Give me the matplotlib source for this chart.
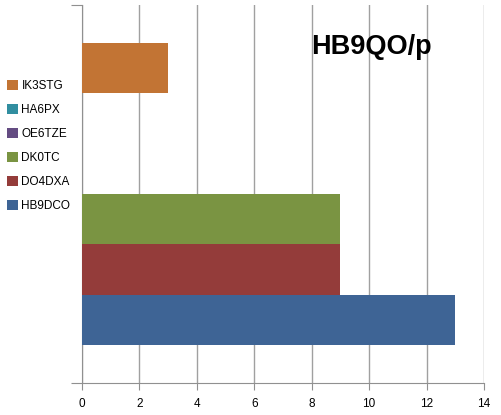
import matplotlib.pyplot as plt
from matplotlib.patches import Patch

# series (bottom to top), one category
names = ['HB9DCO', 'DO4DXA', 'DK0TC', 'OE6TZE', 'HA6PX', 'IK3STG']
values = [13, 9, 9, 0, 0, 3]
colors = ['#3e6495', '#943c3a', '#7a9442', '#644c82', '#318ea0', '#c27434']

plt.rcParams['font.family'] = ['Liberation Sans', 'DejaVu Sans']

fig = plt.figure(figsize=(5.02, 4.15), dpi=100)
ax = fig.add_axes([82 / 502, 1 - 383 / 415, (484 - 82) / 502, (383 - 5) / 415])

ypos = list(range(len(names)))
ax.barh(ypos, values, height=1.0, color=colors, zorder=3)

ax.set_xlim(0, 14)
ax.set_ylim(-1.255, 6.255)
ax.set_xticks(range(0, 15, 2))
ax.set_yticks([-1.255, 6.255])
ax.set_yticklabels([])
ax.grid(axis='x', color='#a0a0a0', linewidth=1, zorder=0)
ax.tick_params(axis='x', length=5, color='#909090', labelsize=8.5, pad=6)
ax.tick_params(axis='y', length=8, color='#909090')
for s in ['top', 'right']:
    ax.spines[s].set_visible(False)
for s in ['left', 'bottom']:
    ax.spines[s].set_color('#909090')

ax.text(0.72, 0.89, 'HB9QO/p', transform=ax.transAxes, fontsize=19.5,
        fontweight='bold', ha='center', va='center', zorder=5)

# legend on the left, top entry first
handles = [Patch(facecolor=c) for c in colors[::-1]]
fig.legend(handles, names[::-1], loc='upper left', bbox_to_anchor=(0.005, 0.818),
           frameon=False, fontsize=8.5, handlelength=0.9, handleheight=0.9,
           handletextpad=0.3, labelspacing=1.02, borderaxespad=0)

fig.savefig('out.png')
